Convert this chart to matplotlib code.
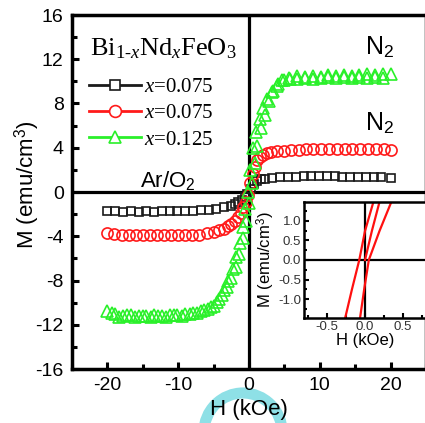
import matplotlib
matplotlib.use("Agg")
import matplotlib.pyplot as plt
from matplotlib.lines import Line2D
from matplotlib.patches import Circle
from matplotlib.ticker import MultipleLocator

plt.rcParams['font.family'] = ['Liberation Sans', 'DejaVu Sans']
plt.rcParams['axes.unicode_minus'] = False
plt.rcParams['mathtext.fontset'] = 'custom'
plt.rcParams['mathtext.rm'] = 'Liberation Serif'
plt.rcParams['mathtext.it'] = 'Liberation Serif:italic'
plt.rcParams['mathtext.sf'] = 'Liberation Sans'

# ---------------- data (H in kOe, M in emu/cm^3) ----------------
# x=0.075, Ar/O2 (black squares)
h_ar = [-20, -18.9, -17.8, -16.7, -15.6, -14.5, -13.4, -12.3, -11.2, -10.1, -9.0, -7.9, -6.8,
        -5.7, -4.6, -3.5, -2.6, -2.0, -1.5, -1.0, -0.6, -0.3,
        0.3, 0.7, 1.2, 1.7, 2.2, 3.3, 4.4, 5.5, 6.6, 7.7, 8.8, 9.9, 11.0, 12.1, 13.2, 14.3,
        15.4, 16.5, 17.6, 18.7, 20]
m_ar = [-1.75, -1.75, -1.8, -1.75, -1.8, -1.75, -1.8, -1.75, -1.75, -1.75, -1.7, -1.7, -1.65,
        -1.6, -1.5, -1.4, -1.25, -1.1, -0.9, -0.7, -0.45, -0.2,
        0.3, 0.7, 1.0, 1.15, 1.2, 1.3, 1.35, 1.4, 1.4, 1.45, 1.45, 1.45, 1.45, 1.45, 1.4, 1.4,
        1.4, 1.4, 1.35, 1.35, 1.3]

# x=0.075, N2 (red circles)
h_n1 = [-20, -19, -18, -17, -16, -15, -14, -13, -12, -11, -10, -9, -8, -7, -6, -5, -4.3,
        -3.6, -3.0, -2.5, -2.0, -1.6, -1.2, -0.8, -0.45, -0.15,
        0.2, 0.5, 0.8, 1.2, 1.6, 2.0, 2.5, 3.1, 3.9, 4.9, 6.0, 7.0, 8.0, 9.1, 10.2, 11.3,
        12.4, 13.5, 14.6, 15.7, 16.8, 17.9, 19.0, 20]
m_n1 = [-3.75, -3.8, -3.85, -3.9, -3.9, -3.9, -3.9, -3.9, -3.9, -3.9, -3.9, -3.9, -3.85,
        -3.85, -3.75, -3.6, -3.45, -3.3, -3.1, -2.85, -2.6, -2.3, -1.9, -1.4, -0.9, -0.3,
        0.8, 1.6, 2.3, 2.9, 3.2, 3.35, 3.5, 3.6, 3.7, 3.75, 3.8, 3.8, 3.85, 3.85, 3.85, 3.9,
        3.9, 3.9, 3.9, 3.85, 3.85, 3.85, 3.85, 3.8]

# x=0.125, N2 (green triangles), two branches
h_n2a = [20, 18.9, 17.8, 16.7, 15.6, 14.5, 13.4, 12.3, 11.2, 10.1, 9.0, 7.9, 6.8, 5.7, 4.6,
         3.9, 3.2, 2.6, 2.0, 1.5, 1.0, 0.6, 0.2, -0.2, -0.5, -0.9, -1.3, -1.8, -2.3, -2.9,
         -3.5, -4.2, -5.0, -5.8, -6.8, -7.9, -9.0, -10.1, -11.2, -12.3, -13.4, -14.5, -15.6,
         -16.7, -17.8, -18.9, -20]
m_n2a = [10.7, 10.7, 10.6, 10.7, 10.6, 10.5, 10.6, 10.5, 10.6, 10.4, 10.5, 10.4, 10.5, 10.3,
         10.1, 9.6, 9.0, 8.4, 7.6, 6.6, 5.4, 4.0, 2.0, 0.0, -1.5, -3.2, -4.6, -5.9, -7.0,
         -8.0, -8.9, -9.7, -10.3, -10.6, -10.8, -10.9, -11.0, -11.1, -11.1, -11.2, -11.1,
         -11.2, -11.2, -11.1, -11.2, -11.0, -10.8]
h_n2b = [-19.4, -18.3, -17.2, -16.1, -15.0, -13.9, -12.8, -11.7, -10.6, -9.5, -8.4, -7.3,
         -6.3, -5.3, -4.5, -3.8, -3.1, -2.5, -1.9, -1.4, -0.9, -0.4, 0.0, 0.4, 0.8, 1.2,
         1.7, 2.2, 2.8, 3.4, 4.1, 4.9, 5.8, 6.8, 7.9, 9.0, 10.1, 11.2, 12.3, 13.4, 14.5,
         15.6, 16.7, 17.8, 18.9]
m_n2b = [-10.9, -11.3, -11.1, -11.3, -11.2, -11.3, -11.2, -11.3, -11.1, -11.2, -11.0, -10.9,
         -10.7, -10.4, -9.9, -9.3, -8.6, -7.8, -6.8, -5.6, -4.2, -2.6, -1.0, 0.8, 2.6, 4.2,
         5.8, 7.0, 8.2, 9.1, 9.8, 10.1, 10.2, 10.2, 10.3, 10.2, 10.3, 10.4, 10.3, 10.4, 10.3,
         10.4, 10.3, 10.4, 10.3]

# inset loop (x=0.075 N2)
h_in_down = [0.11, 0.0, -0.075, -0.17, -0.26]
m_in_down = [1.48, 0.74, 0.0, -0.74, -1.48]
h_in_up = [-0.065, -0.01, 0.05, 0.19, 0.345]
m_in_up = [-1.48, -0.74, 0.0, 0.74, 1.48]
h_in_virgin = [0.0, 0.09, 0.19]
m_in_virgin = [0.0, 0.74, 1.48]

labels = ['$x$=0.075', '$x$=0.075', '$x$=0.125']
colors = ['#1a1a1a', '#ff1a1a', '#2af02a']
markers = ['s', 'o', '^']

# ---------------- figure ----------------
fig = plt.figure(figsize=(4.25, 4.23), dpi=100)
W, H = 425, 423
ax = fig.add_axes([72 / W, 1 - 369 / H, (426 - 72) / W, (369 - 15) / H])

ax.axhline(0, color='k', lw=2.3, zorder=1)
ax.axvline(0, color='k', lw=2.3, zorder=1)

mk = dict(linestyle='none', markerfacecolor='none', markeredgewidth=1.2)
ax.plot(h_ar, m_ar, marker='s', markersize=6.2, markeredgecolor=colors[0], zorder=3, **mk)
ax.plot(h_n1, m_n1, marker='o', markersize=8, markeredgecolor=colors[1], zorder=3, **mk)
ax.plot(h_n2a, m_n2a, marker='^', markersize=8.5, markeredgecolor=colors[2], zorder=4, **mk)
ax.plot(h_n2b, m_n2b, marker='^', markersize=8.5, markeredgecolor=colors[2], zorder=4, **mk)

ax.set_xlim(-25, 25)
ax.set_ylim(-16, 16)
ax.xaxis.set_major_locator(MultipleLocator(10))
ax.xaxis.set_minor_locator(MultipleLocator(5))
ax.yaxis.set_major_locator(MultipleLocator(4))
ax.yaxis.set_minor_locator(MultipleLocator(2))
ax.tick_params(which='both', direction='in', top=False, right=False, width=2.2)
ax.tick_params(which='major', length=5, labelsize=14, pad=6)
ax.tick_params(which='minor', length=3.5)
for s in ax.spines.values():
    s.set_linewidth(2.5)

ax.set_xlabel('H (kOe)', fontsize=16, labelpad=3)
ax.set_ylabel(r'M (emu/cm$^\mathsf{3}$)', fontsize=16)
ax.yaxis.set_label_coords(-0.085, 0.52)

# legend title and entries
ax.text(0.05, 0.905, 'Bi$_{1\u2010x}$Nd$_x$FeO$_3$', transform=ax.transAxes,
        fontsize=19, family='Liberation Serif', ha='left', va='center')
handles = [Line2D([], [], color=c, marker=m, markersize=ms, markerfacecolor='white',
                  markeredgecolor=c, markeredgewidth=1.2, lw=2)
           for c, m, ms in zip(colors, markers, [7, 8.5, 9])]
leg = ax.legend(handles, labels, loc='upper left', bbox_to_anchor=(0.048, 0.823),
                frameon=False, prop={'family': 'Liberation Serif', 'size': 15},
                handlelength=2.5, handletextpad=0.15, labelspacing=0.32,
                borderaxespad=0.0, borderpad=0.0)

ax.text(18.5, 13.1, r'N$_\mathsf{2}$', fontsize=18, ha='center', va='center')
ax.text(18.5, 6.2, r'N$_\mathsf{2}$', fontsize=18, ha='center', va='center')
ax.text(-11.5, 1.0, r'Ar/O$_\mathsf{2}$', fontsize=16, ha='center', va='center')

# inset
axi = fig.add_axes([304 / W, 1 - 318 / H, (426 - 304) / W, (318 - 202) / H])
axi.axhline(0, color='k', lw=1.6)
axi.axvline(0, color='k', lw=1.6)
axi.plot(h_in_down, m_in_down, color='#ff1010', lw=1.6)
axi.plot(h_in_up, m_in_up, color='#ff1010', lw=1.6)
axi.plot(h_in_virgin, m_in_virgin, color='#ff1010', lw=1.6)
axi.set_xlim(-0.8, 0.8)
axi.set_ylim(-1.48, 1.48)
axi.xaxis.set_major_locator(MultipleLocator(0.5))
axi.xaxis.set_minor_locator(MultipleLocator(0.25))
axi.yaxis.set_major_locator(MultipleLocator(0.5))
axi.yaxis.set_minor_locator(MultipleLocator(0.25))
axi.tick_params(which='both', direction='in', top=False, right=False, width=1.5,
                labelsize=9.5, labelcolor='#333333', pad=2)
axi.tick_params(which='major', length=3.5)
axi.tick_params(which='minor', length=2)
for s in axi.spines.values():
    s.set_linewidth(1.8)
axi.set_xlabel('H (kOe)', fontsize=12, labelpad=0)
axi.set_ylabel(r'M (emu/cm$^\mathsf{3}$)', fontsize=12, labelpad=1)

# cyan ring overlay present in the source image
ring = Circle((2.43, -0.09), 0.39, transform=fig.dpi_scale_trans, fill=False,
              lw=8, ec='#8ee0e6', zorder=-1)
fig.add_artist(ring)

fig.savefig('out.png', dpi=100)
